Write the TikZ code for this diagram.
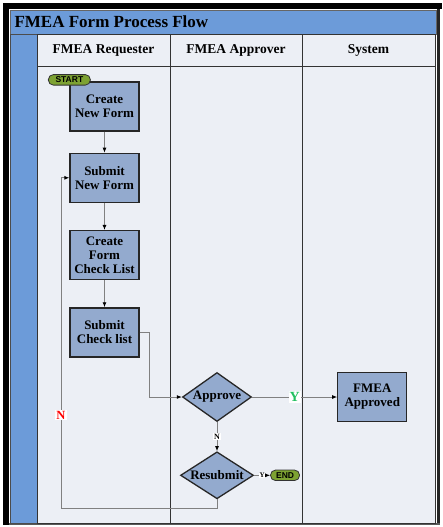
\documentclass[tikz,border=0pt]{standalone}
\usepackage{fontspec}
\setmainfont{Liberation Serif}
\newfontfamily\pillfont{Liberation Sans}
\usetikzlibrary{shapes.geometric, arrows.meta, positioning}
\definecolor{titleblue}{HTML}{6C9BD9}
\definecolor{lanebg}{HTML}{ECEFF5}
\definecolor{boxblue}{HTML}{93AACE}
\definecolor{pillgreen}{HTML}{7DA232}
\definecolor{yesgreen}{HTML}{22C060}
\definecolor{linegray}{HTML}{808080}

\begin{document}
\begin{tikzpicture}[x=1pt, y=-1pt,
    box/.style={rectangle, draw=black!85, line width=1.3pt, fill=boxblue, minimum width=69pt, minimum height=49pt, inner sep=0pt, align=center, font=\fontsize{13}{14}\selectfont\bfseries},
    decision/.style={diamond, draw=black!85, line width=1.3pt, fill=boxblue, inner sep=0pt, font=\fontsize{13}{14}\selectfont\bfseries},
    terminal/.style={rectangle, rounded corners=5pt, draw=black!80, line width=0.8pt, fill=pillgreen, minimum height=10.5pt, inner sep=0pt, font=\pillfont\fontsize{8.5}{8.5}\selectfont\bfseries},
    arrow/.style={draw=linegray, line width=0.9pt, -{Latex[color=black, length=5pt, width=4pt]}},
    lane/.style={draw=black!80, line width=0.8pt, fill=lanebg},
    head/.style={font=\fontsize{13.5}{14}\selectfont\bfseries},
    tag/.style={fill=white, inner sep=1pt, font=\fontsize{8}{8}\selectfont\bfseries}
]
\useasboundingbox (0,0) rectangle (442,527);

% frame and swimlanes
\fill[black] (3,3) rectangle (442,9);
\fill[black] (3,3) rectangle (9,525);
\fill[black!85] (437,9) rectangle (440,525);
\fill[black!65] (9,522.5) rectangle (440,525);
\draw[draw=black!60, fill=titleblue] (10,10) rectangle (436,34);
\draw[draw=black!70, fill=titleblue] (10,34) rectangle (37,523);
\foreach \xa/\xb/\lbl [count=\i] in {37/170/FMEA Requester, 170/302/FMEA Approver, 302/435/System} {
    \draw[lane] (\xa,34) rectangle (\xb,66);
    \draw[lane] (\xa,66) rectangle (\xb,523);
    \node[head] (head\i) at ({(\xa+\xb)/2},50) {\lbl};
}
\node[anchor=west, font=\fontsize{17}{17}\selectfont\bfseries] (title) at (11,22) {FMEA Form Process Flow};

% requester
\node[box] (cnf) at (104.5,106.5) {Create\\New Form};
\node[box, below=21pt of cnf] (snf) {Submit\\New Form};
\node[box, below=27pt of snf] (cfcl) {Create\\Form\\Check List};
\node[box, below=27pt of cfcl] (scl) {Submit\\Check list};
\node[terminal, minimum width=42pt] (start) at ([yshift=1.5pt]cnf.north west) {START};

% approver and system
\node[decision, minimum width=69pt, minimum height=49pt] (approve) at (217,397) {\makebox[0pt]{Approve}};
\node[box, right=85pt of approve] (approved) {FMEA\\Approved};
\node[decision, minimum width=73pt, minimum height=47pt, below=29pt of approve] (resubmit) {\makebox[0pt]{Resubmit}};
\node[terminal, minimum width=29pt, right=16pt of resubmit] (end) {END};
\coordinate (loop) at (61,508);

\draw[arrow] (cnf) -- (snf);
\draw[arrow] (snf) -- (cfcl);
\draw[arrow] (cfcl) -- (scl);
\draw[arrow] (scl.east) -- ++(10,0) |- (approve.west);
\draw[arrow] (approve.east) -- node[tag, text=yesgreen, font=\fontsize{14}{14}\selectfont\bfseries] (yes) {Y} (approved.west);
\draw[arrow] (approve.south) -- node[tag] (no) {N} (resubmit.north);
\draw[arrow] (resubmit.east) -- node[tag, inner sep=0.5pt, font=\fontsize{7}{7}\selectfont\bfseries] (yes2) {Y} (end.west);
\draw[arrow] (resubmit.south) |- (loop) |- (snf.west);
\node[tag, text=red, font=\fontsize{12.5}{12.5}\selectfont\bfseries] (no2) at (61,415) {N};
\end{tikzpicture}
\end{document}
